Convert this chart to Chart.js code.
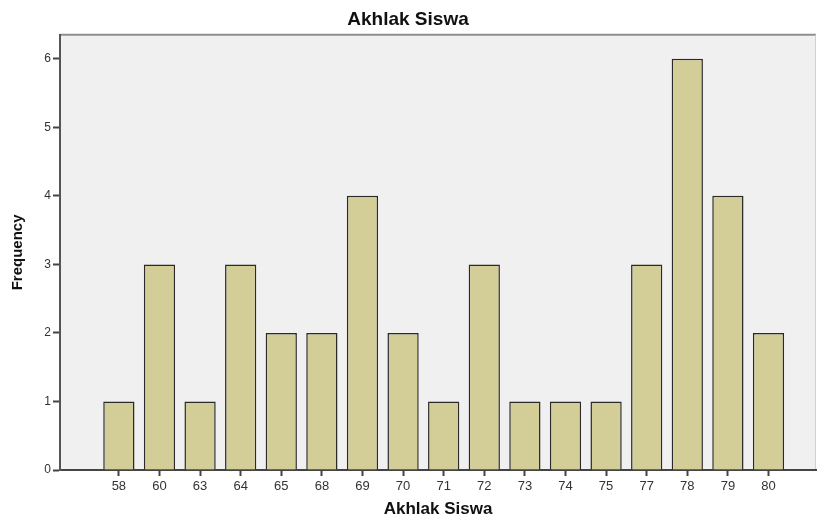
<!DOCTYPE html>
<html>
<head>
<meta charset="utf-8">
<script src="https://cdn.jsdelivr.net/npm/chart.js@4.4.1/dist/chart.umd.min.js"></script>
<style>
  html, body { margin: 0; padding: 0; background: #fff; }
  #wrap { width: 817px; height: 520px; }
</style>
</head>
<body>
<div id="wrap"><canvas id="chart"></canvas></div>
<script>
// Nilai skor dan frekuensinya
const categories = ['58', '60', '63', '64', '65', '68', '69', '70', '71', '72', '73', '74', '75', '77', '78', '79', '80'];
const frequencies = [1, 3, 1, 3, 2, 2, 4, 2, 1, 3, 1, 1, 1, 3, 6, 4, 2];
const yTicks = [0, 1, 2, 3, 4, 5, 6];

// Latar abu-abu dan bingkai area plot
const plotFrame = {
    id: 'plotFrame',
    beforeDraw(chart) {
        const { ctx, chartArea: a } = chart;
        ctx.save();
        ctx.fillStyle = '#f0f0f0';
        ctx.fillRect(a.left, a.top, a.right - a.left, a.bottom - a.top);
        ctx.strokeStyle = '#8f8f8f';
        ctx.lineWidth = 2;
        ctx.beginPath();
        ctx.moveTo(a.left, a.top);
        ctx.lineTo(a.right, a.top);
        ctx.stroke();
        ctx.strokeStyle = '#d0d0d0';
        ctx.lineWidth = 1;
        ctx.beginPath();
        ctx.moveTo(a.right - 0.5, a.top);
        ctx.lineTo(a.right - 0.5, a.bottom);
        ctx.stroke();
        ctx.restore();
    }
};

const ctx = document.getElementById('chart').getContext('2d');
new Chart(ctx, {
    type: 'bar',
    data: {
        datasets: [{
            data: frequencies.map((v, i) => ({ x: i, y: v })),
            backgroundColor: '#d3ce97',
            borderColor: '#2a2a2a',
            borderWidth: 1.5,
            barPercentage: 0.77,
            categoryPercentage: 1
        }]
    },
    options: {
        responsive: true,
        maintainAspectRatio: false,
        animation: false,
        layout: { padding: { left: 0, right: 1, top: 0, bottom: 0 } },
        plugins: {
            legend: { display: false },
            tooltip: { enabled: false },
            title: {
                display: true,
                text: 'Akhlak Siswa',
                color: '#111',
                font: { family: 'Arial, "Liberation Sans", sans-serif', size: 19, weight: 'bold' },
                padding: { top: 8, bottom: 4 }
            }
        },
        scales: {
            x: {
                type: 'linear',
                offset: false,
                min: -1.45,
                max: 17.17,
                afterBuildTicks(scale) {
                    scale.ticks = categories.map((c, i) => ({ value: i }));
                },
                afterFit(scale) { scale.height = 50; },
                grid: {
                    offset: false,
                    drawOnChartArea: false,
                    drawTicks: true,
                    tickLength: 6,
                    tickWidth: 2,
                    tickColor: '#444'
                },
                border: { display: true, color: '#444', width: 2 },
                ticks: {
                    autoSkip: false,
                    maxRotation: 0,
                    padding: 3,
                    color: '#333',
                    font: { family: 'Arial, "Liberation Sans", sans-serif', size: 13 },
                    callback: (v) => categories[v]
                },
                title: {
                    display: true,
                    text: 'Akhlak Siswa',
                    color: '#111',
                    font: { family: 'Arial, "Liberation Sans", sans-serif', size: 17, weight: 'bold' },
                    padding: { top: 0, bottom: 0 }
                }
            },
            y: {
                min: 0,
                max: 6.35,
                afterBuildTicks(scale) {
                    scale.ticks = yTicks.map(v => ({ value: v }));
                },
                afterFit(scale) { scale.width = 60; },
                grid: {
                    drawOnChartArea: false,
                    drawTicks: true,
                    tickLength: 7,
                    tickWidth: 2,
                    tickColor: '#444'
                },
                border: { display: true, color: '#555', width: 2 },
                ticks: {
                    padding: 2,
                    color: '#333',
                    font: { family: 'Arial, "Liberation Sans", sans-serif', size: 12 }
                },
                title: {
                    display: true,
                    text: 'Frequency',
                    color: '#111',
                    font: { family: 'Arial, "Liberation Sans", sans-serif', size: 15, weight: 'bold' },
                    padding: { top: 9, bottom: 0 }
                }
            }
        }
    },
    plugins: [plotFrame]
});
</script>
</body>
</html>
